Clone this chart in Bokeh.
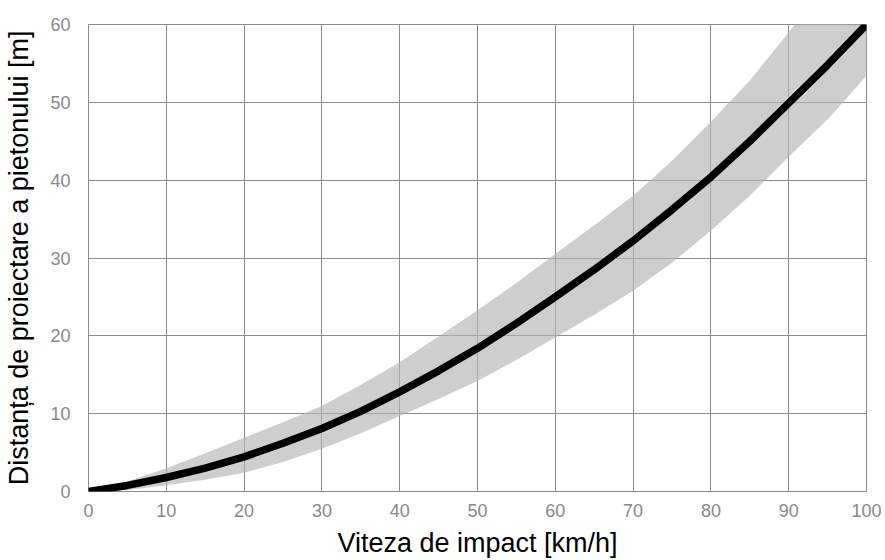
from bokeh.plotting import figure
from bokeh.models import FixedTicker, Range1d
from bokeh.embed import file_html
from bokeh.resources import INLINE

# Impact speed [km/h]
speed = [0, 5, 10, 15, 20, 25, 30, 35, 40, 45, 50, 55, 60, 65, 70, 75, 80, 85, 90, 95, 100]
# Projection distance [m] - central curve
distance = [0, 0.78, 1.8, 3.0, 4.45, 6.2, 8.1, 10.3, 12.8, 15.5, 18.4, 21.6, 25.0, 28.5, 32.2, 36.2, 40.4, 45.0, 49.9, 54.8, 60.0]
# Band upper and lower limits [m]
upper = [0, 1.3, 3.0, 4.9, 6.9, 8.9, 11.0, 13.7, 16.6, 19.9, 23.3, 26.8, 30.5, 34.2, 38.0, 42.5, 47.5, 52.8, 59.0, 64.8, 70.5]
lower = [0, 0.2, 0.8, 1.5, 2.4, 3.8, 5.5, 7.5, 9.7, 11.9, 14.2, 16.9, 19.8, 22.7, 25.8, 29.4, 33.5, 38.0, 43.0, 47.8, 53.4]

x_ticks = [0, 10, 20, 30, 40, 50, 60, 70, 80, 90, 100]
y_ticks = [0, 10, 20, 30, 40, 50, 60]

FONT = "Liberation Sans"
GRID = "#8c8c8c"

p = figure(width=885, height=560, output_backend="svg", toolbar_location=None,
           x_range=Range1d(0, 100), y_range=Range1d(0, 60),
           min_border_left=88, min_border_right=19, min_border_top=24, min_border_bottom=66)

p.background_fill_color = "white"
p.border_fill_color = "white"
p.outline_line_color = GRID
p.outline_line_width = 1

p.varea(x=speed, y1=lower, y2=upper, fill_color="#b3b3b3", fill_alpha=0.65)
p.line(x=speed, y=distance, line_color="black", line_width=7.5)

for ax in (p.xaxis[0], p.yaxis[0]):
    ax.axis_line_color = None
    ax.major_tick_line_color = None
    ax.minor_tick_line_color = None
    ax.major_label_text_font = FONT
    ax.major_label_text_font_size = "18px"
    ax.major_label_text_color = "#888888"
    ax.axis_label_text_font = FONT
    ax.axis_label_text_font_size = "27px"
    ax.axis_label_text_font_style = "normal"
    ax.axis_label_text_color = "black"

p.xaxis[0].ticker = FixedTicker(ticks=x_ticks)
p.yaxis[0].ticker = FixedTicker(ticks=y_ticks)
p.xaxis[0].axis_label = "Viteza de impact [km/h]"
p.yaxis[0].axis_label = "Distanța de proiectare a pietonului [m]"
p.xaxis[0].major_label_standoff = 6
p.xaxis[0].axis_label_standoff = 8
p.yaxis[0].major_label_standoff = 12
p.yaxis[0].axis_label_standoff = 13

p.xgrid[0].ticker = FixedTicker(ticks=x_ticks)
p.ygrid[0].ticker = FixedTicker(ticks=y_ticks)
for g in (p.xgrid[0], p.ygrid[0]):
    g.grid_line_color = GRID
    g.grid_line_width = 1

open("out.html", "w").write(file_html(p, INLINE))
